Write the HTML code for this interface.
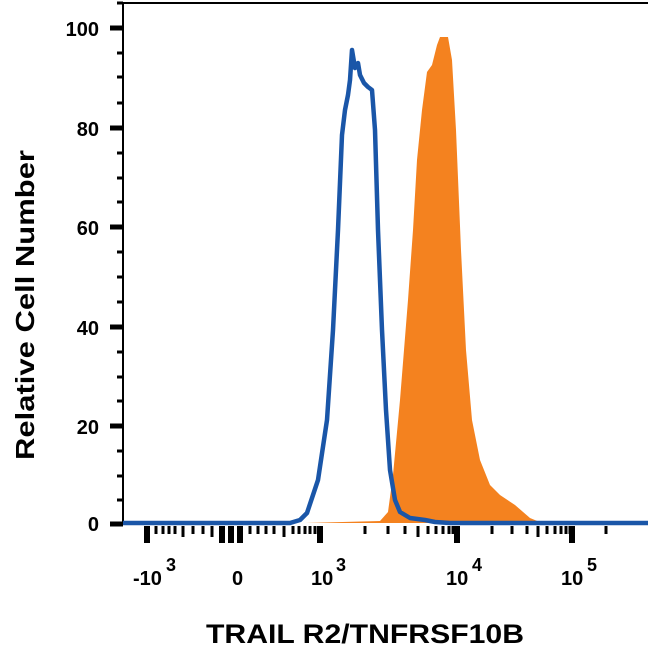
<!DOCTYPE html>
<html><head><meta charset="utf-8"><style>
body{margin:0;background:#fff;}
svg{display:block;font-family:"Liberation Sans",sans-serif;font-weight:bold;}
</style></head><body>
<svg width="650" height="652" viewBox="0 0 650 652">
<path fill="#f4821f" d="M305,523 L380,521 L388,512 L393,475 L400,400 L408,300 L413,230 L417,160 L422,110 L427,72 L432,65 L437,45 L440,37 L448,37 L452,60 L456,130 L461,250 L466,350 L472,420 L480,460 L490,485 L500,495 L515,505 L530,518 L542,523 Z"/>
<path d="M123,3 L123,525 M123,3 L648,3" stroke="#000" stroke-width="2" fill="none"/>
<polyline fill="none" stroke="#1a56a8" stroke-width="4.5" stroke-linejoin="round" points="123,523 290,523 300,520 307,513 318,480 327,420 333,330 338,230 342,135 345,110 348,95 350,80 352,50 355,68 358,63 360,75 364,83 368,87 372,90 375,130 378,230 382,330 386,410 390,470 395,500 400,512 410,518 425,520 435,522 450,523 648,523"/>
<g stroke="#000">
<line x1="110" y1="28" x2="123" y2="28" stroke-width="5"/>
<line x1="110" y1="128" x2="123" y2="128" stroke-width="5"/>
<line x1="110" y1="227" x2="123" y2="227" stroke-width="5"/>
<line x1="110" y1="327" x2="123" y2="327" stroke-width="5"/>
<line x1="110" y1="426" x2="123" y2="426" stroke-width="5"/>
<line x1="110" y1="524" x2="123" y2="524" stroke-width="5"/>
<g stroke-width="3">
<line x1="117" y1="3" x2="123" y2="3"/>
<line x1="117" y1="53" x2="123" y2="53"/><line x1="117" y1="77" x2="123" y2="77"/><line x1="117" y1="103" x2="123" y2="103"/>
<line x1="117" y1="153" x2="123" y2="153"/><line x1="117" y1="178" x2="123" y2="178"/><line x1="117" y1="202" x2="123" y2="202"/>
<line x1="117" y1="252" x2="123" y2="252"/><line x1="117" y1="277" x2="123" y2="277"/><line x1="117" y1="302" x2="123" y2="302"/>
<line x1="117" y1="352" x2="123" y2="352"/><line x1="117" y1="377" x2="123" y2="377"/><line x1="117" y1="401" x2="123" y2="401"/>
<line x1="117" y1="451" x2="123" y2="451"/><line x1="117" y1="476" x2="123" y2="476"/><line x1="117" y1="500" x2="123" y2="500"/>
</g>
<g stroke-width="6">
<line x1="147" y1="526" x2="147" y2="543"/>
<line x1="222" y1="526" x2="222" y2="543"/><line x1="231" y1="526" x2="231" y2="543"/><line x1="240" y1="526" x2="240" y2="543"/>
<line x1="320" y1="526" x2="320" y2="543"/>
<line x1="457" y1="526" x2="457" y2="543"/>
<line x1="572" y1="526" x2="572" y2="543"/>
</g>
<g stroke-width="3">
<line x1="156" y1="526" x2="156" y2="534"/><line x1="163" y1="526" x2="163" y2="534"/><line x1="169" y1="526" x2="169" y2="534"/><line x1="175" y1="526" x2="175" y2="534"/><line x1="183" y1="526" x2="183" y2="537"/><line x1="193" y1="526" x2="193" y2="534"/><line x1="203" y1="526" x2="203" y2="534"/><line x1="212" y1="526" x2="212" y2="537"/>
<line x1="250" y1="526" x2="250" y2="534"/><line x1="258" y1="526" x2="258" y2="534"/><line x1="266" y1="526" x2="266" y2="534"/><line x1="274" y1="526" x2="274" y2="534"/><line x1="284" y1="526" x2="284" y2="537"/><line x1="293" y1="526" x2="293" y2="534"/><line x1="299" y1="526" x2="299" y2="534"/><line x1="305" y1="526" x2="305" y2="534"/><line x1="310" y1="526" x2="310" y2="534"/><line x1="315" y1="526" x2="315" y2="534"/>
<line x1="365" y1="526" x2="365" y2="534"/><line x1="388" y1="526" x2="388" y2="534"/><line x1="405" y1="526" x2="405" y2="534"/><line x1="418" y1="526" x2="418" y2="537"/><line x1="428" y1="526" x2="428" y2="534"/><line x1="436" y1="526" x2="436" y2="534"/><line x1="443" y1="526" x2="443" y2="534"/><line x1="449" y1="526" x2="449" y2="534"/><line x1="453" y1="526" x2="453" y2="534"/>
<line x1="492" y1="526" x2="492" y2="534"/><line x1="512" y1="526" x2="512" y2="534"/><line x1="527" y1="526" x2="527" y2="534"/><line x1="538" y1="526" x2="538" y2="537"/><line x1="547" y1="526" x2="547" y2="534"/><line x1="555" y1="526" x2="555" y2="534"/><line x1="561" y1="526" x2="561" y2="534"/><line x1="566" y1="526" x2="566" y2="534"/><line x1="570" y1="526" x2="570" y2="534"/>
<line x1="606" y1="526" x2="606" y2="534"/>
</g>
</g>
<g font-size="20" text-anchor="end" fill="#000">
<text x="99" y="36">100</text><text x="99" y="136">80</text><text x="99" y="235">60</text>
<text x="99" y="335">40</text><text x="99" y="434">20</text><text x="99" y="531">0</text>
</g>
<g font-size="20" fill="#000">
<text x="133" y="585">-10</text><text x="166" y="571" font-size="18">3</text>
<text x="232" y="585">0</text>
<text x="311" y="585">10</text><text x="336" y="571" font-size="18">3</text>
<text x="446" y="585">10</text><text x="472" y="571" font-size="18">4</text>
<text x="561" y="585">10</text><text x="587" y="571" font-size="18">5</text>
</g>
<text x="206" y="643" font-size="27" textLength="318" lengthAdjust="spacingAndGlyphs">TRAIL R2/TNFRSF10B</text>
<text transform="translate(34,460) rotate(-90)" font-size="26" textLength="310" lengthAdjust="spacingAndGlyphs">Relative Cell Number</text>
</svg>
</body></html>
